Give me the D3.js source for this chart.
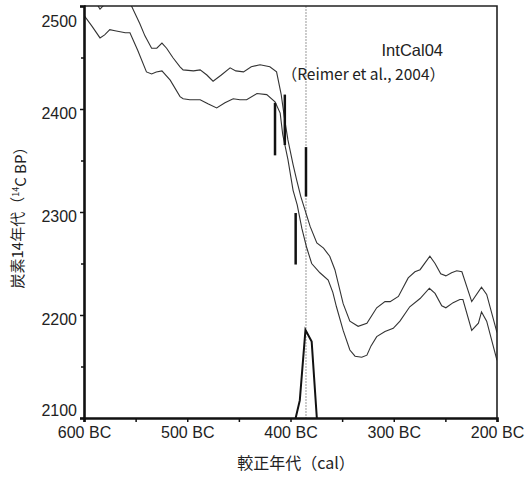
<!DOCTYPE html>
<html>
<head>
<meta charset="utf-8">
<script src="https://cdn.jsdelivr.net/npm/d3@7"></script>
<style>
  body { margin: 0; background: #fff; }
  text { font-family: "Liberation Sans", Arial, sans-serif; fill: #222; }
  .jp { font-family: "Noto Sans CJK JP", sans-serif; }
</style>
</head>
<body>
<svg id="chart" width="530" height="477"></svg>
<script>
// IntCal04 curve, upper / lower edge (cal BC, 14C BP)
var upperYears = [600, 592, 587, 584.5, 581.5, 577, 565, 557.5, 554, 546, 541, 534.5, 529.5, 524.5, 520, 514, 507, 504, 494, 487.5, 481, 475, 467, 458.5, 453, 445.5, 438, 429.5, 420, 413.5, 409, 405.5, 402.5, 397.5, 394, 390, 386, 381, 374.5, 368, 362, 357, 349, 342.5, 334.5, 326, 316.5, 308.5, 303.5, 295.5, 286, 279.5, 274.5, 265, 260, 254.5, 249.5, 244, 239, 234, 224.5, 215, 210, 200];
var upperBP = [2514, 2508, 2501, 2497, 2500, 2508, 2510, 2506, 2500, 2483, 2471, 2459, 2459, 2464, 2459, 2450, 2441, 2438, 2437, 2438, 2433, 2427, 2433, 2440, 2437, 2436, 2441, 2443, 2441, 2436, 2414, 2389, 2370, 2346, 2331, 2315, 2302, 2286, 2270, 2265, 2257, 2244, 2211, 2194, 2189, 2192, 2207, 2213, 2213, 2218, 2236, 2242, 2244, 2257, 2250, 2240, 2238, 2241, 2243, 2242, 2213, 2227, 2220, 2183];

var lowerYears = [600, 592, 584.5, 580, 575, 570, 560, 555.5, 548, 539.5, 534.5, 530, 524.5, 516.5, 507, 504, 497.5, 487.5, 480, 471.5, 463.5, 455.5, 449, 442.5, 432.5, 423, 415, 410, 407.5, 402.5, 397.5, 393.5, 389, 384.5, 379.5, 371.5, 363.5, 359, 355.5, 349, 342.5, 337.5, 331, 326, 322, 316.5, 308.5, 300.5, 294, 284.5, 274.5, 265.5, 260, 253.5, 249.5, 242.5, 236, 233, 224.5, 218, 215, 210, 200];
var lowerBP = [2491, 2480, 2469, 2472, 2477, 2476, 2474, 2474, 2457, 2436, 2434, 2436, 2437, 2428, 2412, 2410, 2409, 2409, 2405, 2401, 2406, 2410, 2409, 2409, 2415, 2414, 2407, 2396, 2375, 2351, 2321, 2307, 2284, 2266, 2250, 2241, 2234, 2222, 2208, 2185, 2166, 2160, 2159, 2161, 2170, 2179, 2184, 2187, 2194, 2208, 2216, 2226, 2221, 2209, 2207, 2212, 2215, 2215, 2185, 2192, 2203, 2194, 2156];

// measured 14C ages (1 sigma bars)
var barYears = [415, 405.5, 395, 385];
var barLow = [2355, 2365, 2249, 2315];
var barHigh = [2406, 2414, 2299, 2363];

// calibrated probability
var peakYears = [395, 391, 385.5, 379.5, 374.5];
var peakProb = [0, 0.2, 1, 0.87, 0];

var markYear = 385;

var xTicks = [600, 500, 400, 300, 200];
var xMinor = [550, 450, 350, 250];
var yTicks = [2100, 2200, 2300, 2400, 2500];
var yMinor = [2150, 2250, 2350, 2450];

var svg = d3.select("#chart");
var mLeft = 84, mRight = 497, mTop = 6, mBottom = 418;

var x = d3.scaleLinear().domain([600, 200]).range([mLeft, mRight]);
var y = d3.scaleLinear().domain([2100, 2500]).range([mBottom, mTop]);
var p = d3.scaleLinear().domain([0, 1]).range([mBottom, 330]);

svg.append("clipPath").attr("id", "plot")
    .append("rect")
    .attr("x", mLeft).attr("y", mTop)
    .attr("width", mRight - mLeft).attr("height", mBottom - mTop);

// dotted marker line
svg.append("line")
    .attr("x1", x(markYear)).attr("x2", x(markYear))
    .attr("y1", mTop).attr("y2", mBottom)
    .attr("stroke", "#999")
    .attr("stroke-width", 1)
    .attr("stroke-dasharray", "2,1");

var line = d3.line()
    .x(function(d) { return x(d[0]); })
    .y(function(d) { return y(d[1]); });

var curves = svg.append("g").attr("clip-path", "url(#plot)");
curves.append("path")
    .datum(d3.zip(upperYears, upperBP))
    .attr("d", line)
    .attr("fill", "none").attr("stroke", "#333").attr("stroke-width", 1.1);
curves.append("path")
    .datum(d3.zip(lowerYears, lowerBP))
    .attr("d", line)
    .attr("fill", "none").attr("stroke", "#333").attr("stroke-width", 1.1);

svg.append("g").selectAll("line")
    .data(d3.range(barYears.length))
    .enter().append("line")
    .attr("x1", function(i) { return x(barYears[i]); })
    .attr("x2", function(i) { return x(barYears[i]); })
    .attr("y1", function(i) { return y(barLow[i]); })
    .attr("y2", function(i) { return y(barHigh[i]); })
    .attr("stroke", "#111")
    .attr("stroke-width", 2.5);

svg.append("path")
    .datum(d3.zip(peakYears, peakProb))
    .attr("d", d3.line()
        .x(function(d) { return x(d[0]); })
        .y(function(d) { return p(d[1]); }))
    .attr("fill", "none")
    .attr("stroke", "#111")
    .attr("stroke-width", 2)
    .attr("stroke-linejoin", "miter");

// frame top/right
svg.append("path")
    .attr("d", "M" + mLeft + "," + mTop + "H" + mRight + "V" + mBottom)
    .attr("fill", "none").attr("stroke", "#222").attr("stroke-width", 1.6);

// axes
var yAxis = svg.append("g")
    .attr("transform", "translate(" + mLeft + ",0)")
    .call(d3.axisLeft(y).tickValues(yTicks).tickSize(4).tickPadding(3).tickFormat(d3.format("d")));
yAxis.selectAll("text")
    .style("font-size", "16px")
    .attr("dy", function(d) { return d === 2500 ? "1.3em" : d === 2100 ? "-0.18em" : "0.62em"; });

svg.append("g")
    .attr("transform", "translate(" + mLeft + ",0)")
    .call(d3.axisLeft(y).tickValues(yMinor).tickSize(3).tickFormat(""))
    .select(".domain").remove();

var xAxis = svg.append("g")
    .attr("transform", "translate(0," + mBottom + ")")
    .call(d3.axisBottom(x).tickValues(xTicks).tickSize(4).tickPadding(5)
        .tickFormat(function(d) { return d + " BC"; }));
xAxis.selectAll("text").style("font-size", "16px");

svg.append("g")
    .attr("transform", "translate(0," + mBottom + ")")
    .call(d3.axisBottom(x).tickValues(xMinor).tickSize(4).tickFormat(""))
    .select(".domain").remove();

svg.selectAll(".domain").attr("stroke", "#111").attr("stroke-width", 2.6);
svg.selectAll(".tick line").attr("stroke", "#111").attr("stroke-width", 1.5);

// labels
svg.append("text")
    .attr("x", 443).attr("y", 56)
    .attr("text-anchor", "end")
    .style("font-size", "16.5px")
    .text("IntCal04");

svg.append("text")
    .attr("class", "jp")
    .attr("x", 445).attr("y", 80)
    .attr("text-anchor", "end")
    .style("font-size", "15.5px")
    .text("（Reimer et al., 2004）");

svg.append("text")
    .attr("class", "jp")
    .attr("x", 296).attr("y", 469)
    .attr("text-anchor", "middle")
    .style("font-size", "16px")
    .text("較正年代（cal）");

var yt = svg.append("text")
    .attr("class", "jp")
    .attr("transform", "translate(23,214) rotate(-90)")
    .attr("text-anchor", "middle")
    .style("font-size", "15px");
yt.append("tspan").text("炭素14年代（");
yt.append("tspan").attr("dy", "-0.45em").style("font-size", "9px").text("14");
yt.append("tspan").attr("dy", "0.45em").text("C BP）");
</script>
</body>
</html>
